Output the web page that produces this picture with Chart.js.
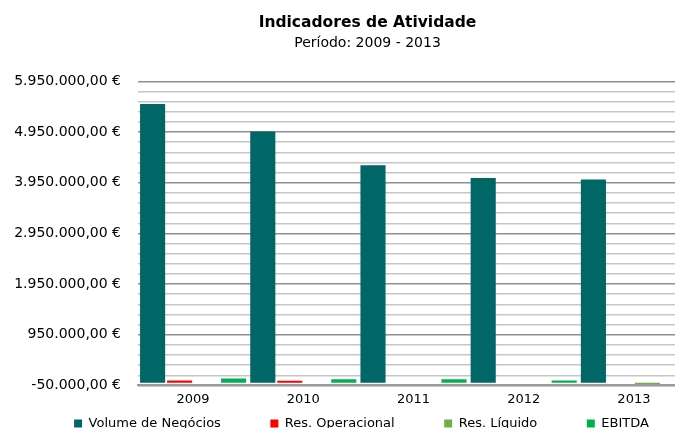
<!DOCTYPE html>
<html>
<head>
<meta charset="utf-8">
<script src="https://cdn.jsdelivr.net/npm/chart.js@4"></script>
<style>
  body { margin: 0; overflow: hidden; background: #fff; }
  #wrap { position: absolute; left: 0; top: 0; width: 730px; height: 440px; }
</style>
</head>
<body>
<div id="wrap"><canvas id="atividade_chart"></canvas></div>
<script>
var anos = ["2009", "2010", "2011", "2012", "2013"];
var volume_negocios = [5505000, 4960000, 4295000, 4042000, 4016000];
var res_operacional = [45000, 40000, 0, 0, 0];
var res_liquido = [0, 0, 0, 0, -20000];
var ebitda = [85000, 70000, 70000, 45000, 0];
var eixo_min = -50000;
var eixo_max = 5950000;
var passo_menor = 200000;
var passo_maior = 1000000;

function euros(v) {
  var neg = v < 0;
  var s = Math.abs(v).toFixed(2).split(".");
  var int = s[0].replace(/\B(?=(\d{3})+(?!\d))/g, ".");
  return (neg ? "-" : "") + int + "," + s[1] + " €";
}

function isMajor(v) {
  return Math.abs((v - eixo_min) % passo_maior) < 1;
}

// titles and legend sit a bit right of the plot centre in the original
var shiftBoxes = {
  id: "shiftBoxes",
  afterLayout: function (chart) {
    chart.boxes.forEach(function (b) {
      if (b.axis) return;
      var d = b.position === "bottom" ? 12 : 18;
      b.left += d;
      b.right += d;
    });
  },
};

Chart.defaults.font.family = "DejaVu Sans";
Chart.defaults.color = "#000";

var ctx = document.getElementById("atividade_chart").getContext("2d");
var myChart = new Chart(ctx, {
  type: "bar",
  data: {
    labels: anos,
    datasets: [
      { label: "Volume de Negócios", data: volume_negocios, backgroundColor: "#006666" },
      { label: "Res. Operacional", data: res_operacional, backgroundColor: "#ff0000" },
      { label: "Res. Líquido", data: res_liquido, backgroundColor: "#70ad47" },
      { label: "EBITDA", data: ebitda, backgroundColor: "#00b050" },
    ],
  },
  plugins: [shiftBoxes],
  options: {
    responsive: true,
    maintainAspectRatio: false,
    animation: false,
    layout: { padding: { left: 10, right: 41, top: 0, bottom: 0 } },
    datasets: { bar: { categoryPercentage: 0.98, barPercentage: 0.93 } },
    plugins: {
      title: {
        display: true,
        text: "Indicadores de Atividade",
        font: { size: 15.5, weight: "bold" },
        padding: { top: 14, bottom: 2 },
      },
      subtitle: {
        display: true,
        text: "Período: 2009 - 2013",
        font: { size: 14 },
        padding: { bottom: 30 },
      },
      legend: {
        position: "bottom",
        labels: {
          boxWidth: 8,
          boxHeight: 8,
          padding: 4,
          font: { size: 13 },
          generateLabels: function (chart) {
            var items = Chart.defaults.plugins.legend.labels.generateLabels(chart);
            items.forEach(function (it, i) {
              if (i < items.length - 1) it.text = it.text + "\u2002\u2002\u2002\u2002\u2002\u2002\u2002";
            });
            return items;
          },
        },
      },
      tooltip: { enabled: false },
    },
    scales: {
      x: {
        grid: { display: false, drawTicks: false },
        border: { display: true, color: "#9a9a9a", width: 2 },
        ticks: { font: { size: 13 }, padding: 6 },
      },
      y: {
        min: eixo_min,
        max: eixo_max,
        afterBuildTicks: function (scale) {
          var t = [];
          for (var v = eixo_min; v <= eixo_max; v += passo_menor) t.push({ value: v });
          scale.ticks = t;
        },
        afterFit: function (scale) {
          scale.width = 128;
        },
        border: { display: false },
        grid: {
          drawTicks: false,
          lineWidth: 1.5,
          color: function (c) {
            return isMajor(c.tick.value) ? "#8f8f8f" : "#c6c6c6";
          },
        },
        ticks: {
          autoSkip: false,
          padding: 17,
          font: { size: 14 },
          callback: function (v) {
            return isMajor(v) ? euros(v) : "";
          },
        },
      },
    },
  },
});
</script>
</body>
</html>
